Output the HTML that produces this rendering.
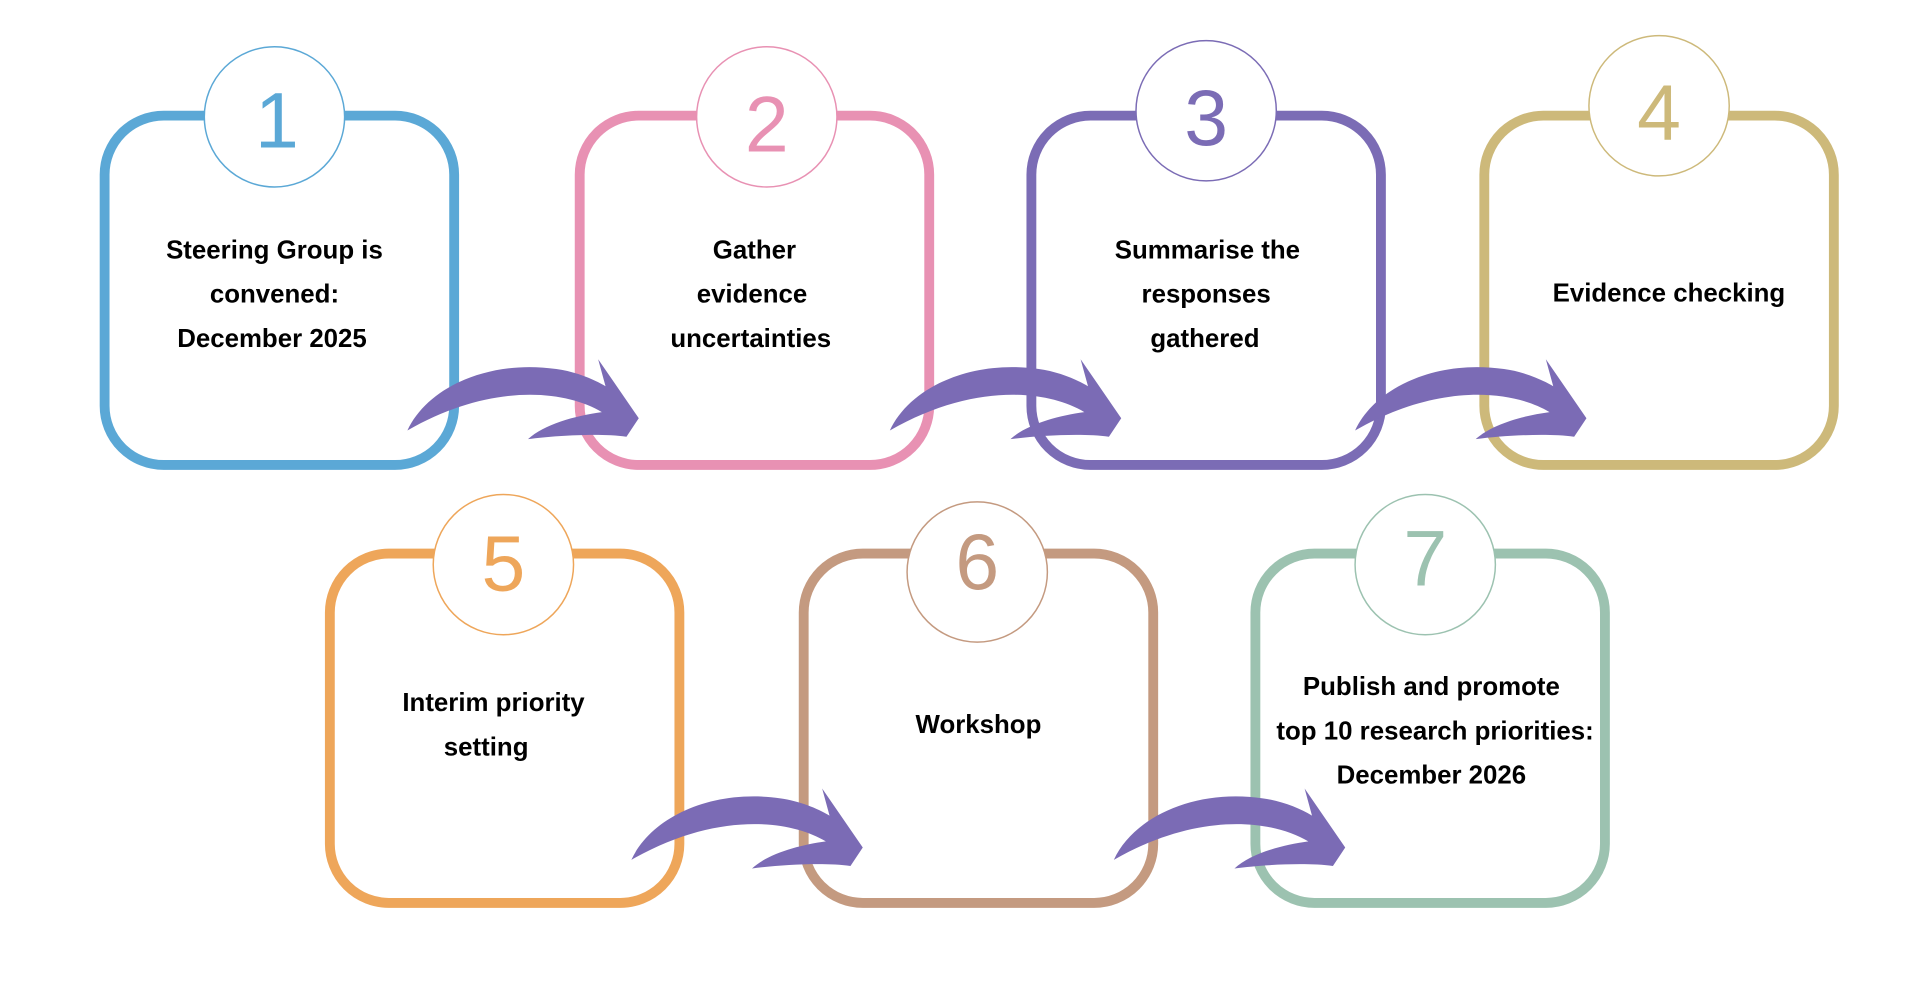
<!DOCTYPE html>
<html><head><meta charset="utf-8"><style>
html,body{margin:0;padding:0;background:#fff;}
svg{display:block;}
text{font-family:"Liberation Sans",sans-serif;}
.t{font-weight:bold;font-size:21px;fill:#000;text-anchor:middle;}
.n{font-size:64px;text-anchor:middle;font-weight:normal;}
</style></head><body>
<svg width="1920" height="1005" viewBox="0 0 1560 817" preserveAspectRatio="none" xmlns="http://www.w3.org/2000/svg">
<defs>
<path id="arr" d="M334,350 C350,315 400,292 455,300 C470,302 485,308 495,314 L489,292 L522,340 L512,355 C490,352 455,354 432,357 C445,345 470,338 492,335 C460,316 400,312 334,350 Z" fill="#7b6bb5"/>
</defs>
<g transform="translate(-3,0)">
<g fill="#fff" stroke-width="8">
<rect x="88" y="94" width="284" height="284" rx="48" stroke="#5ba8d6"/>
<rect x="474" y="94" width="284" height="284" rx="48" stroke="#e891b3"/>
<rect x="841" y="94" width="284" height="284" rx="48" stroke="#7b6cb5"/>
<rect x="1209" y="94" width="284" height="284" rx="48" stroke="#cdb97a"/>
<rect x="271" y="450" width="284" height="284" rx="48" stroke="#eea65a"/>
<rect x="656" y="450" width="284" height="284" rx="48" stroke="#c49a80"/>
<rect x="1023" y="450" width="284" height="284" rx="48" stroke="#9cc2b0"/>
</g>
<g fill="#fff" stroke-width="1.2">
<circle cx="226" cy="95" r="57" stroke="#5ba8d6"/>
<circle cx="626" cy="95" r="57" stroke="#e891b3"/>
<circle cx="983" cy="90" r="57" stroke="#7b6cb5"/>
<circle cx="1351" cy="86" r="57" stroke="#cdb97a"/>
<circle cx="412" cy="459" r="57" stroke="#eea65a"/>
<circle cx="797" cy="465" r="57" stroke="#c49a80"/>
<circle cx="1161" cy="459" r="57" stroke="#9cc2b0"/>
</g>
<text class="n" x="228" y="120" fill="#5ba8d6">1</text>
<text class="n" x="626" y="123" fill="#e891b3">2</text>
<text class="n" x="983" y="118" fill="#7b6cb5">3</text>
<text class="n" x="1351" y="114" fill="#cdb97a">4</text>
<text class="n" x="412" y="480" fill="#eea65a">5</text>
<text class="n" x="797" y="479" fill="#c49a80">6</text>
<text class="n" x="1161" y="476" fill="#9cc2b0">7</text>
<use href="#arr"/>
<use href="#arr" transform="translate(392,0)"/>
<use href="#arr" transform="translate(770,0)"/>
<use href="#arr" transform="translate(182,349)"/>
<use href="#arr" transform="translate(574,349)"/>
<text class="t" x="226" y="210">Steering Group is</text>
<text class="t" x="226" y="246">convened:</text>
<text class="t" x="224" y="282">December 2025</text>
<text class="t" x="616" y="210">Gather</text>
<text class="t" x="614" y="246">evidence</text>
<text class="t" x="613" y="282">uncertainties</text>
<text class="t" x="984" y="210">Summarise the</text>
<text class="t" x="983" y="246">responses</text>
<text class="t" x="982" y="282">gathered</text>
<text class="t" x="1359" y="245">Evidence checking</text>
<text class="t" x="404" y="578">Interim priority</text>
<text class="t" x="398" y="614">setting</text>
<text class="t" x="798" y="596">Workshop</text>
<text class="t" x="1166" y="565">Publish and promote</text>
<text class="t" x="1169" y="601">top 10 research priorities:</text>
<text class="t" x="1166" y="637">December 2026</text>
</g>
</svg>
</body></html>
